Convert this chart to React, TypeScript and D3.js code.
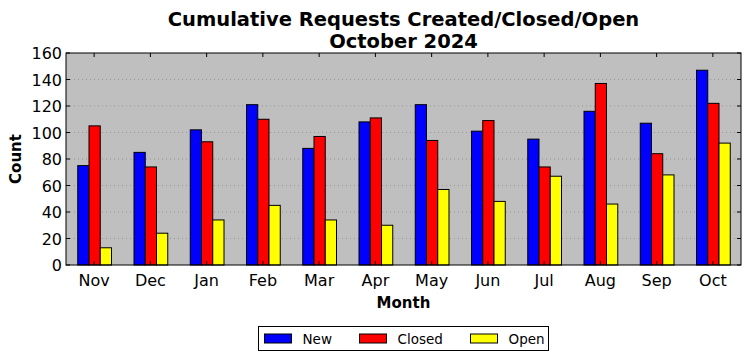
import React, { useEffect, useRef } from 'react';
import * as d3 from 'd3';

const MONTHS = ['Nov', 'Dec', 'Jan', 'Feb', 'Mar', 'Apr', 'May', 'Jun', 'Jul', 'Aug', 'Sep', 'Oct'];
const NEW = [75, 85, 102, 121, 88, 108, 121, 101, 95, 116, 107, 147];
const CLOSED = [105, 74, 93, 110, 97, 111, 94, 109, 74, 137, 84, 122];
const OPEN = [13, 24, 34, 45, 34, 30, 57, 48, 67, 46, 68, 92];
const Y_TICKS = [0, 20, 40, 60, 80, 100, 120, 140, 160];

const SERIES = [
  { name: 'New', values: NEW, color: '#0000ff' },
  { name: 'Closed', values: CLOSED, color: '#ff0000' },
  { name: 'Open', values: OPEN, color: '#ffff00' },
];

const W = 751;
const H = 361;
const FONT = '"DejaVu Sans", sans-serif';

export default function App() {
  const svgRef = useRef<SVGSVGElement>(null);

  useEffect(() => {
    if (!svgRef.current) return;
    const svg = d3.select(svgRef.current);
    svg.selectAll('*').remove();

    const margin = { top: 53, right: 10, bottom: 96, left: 66 };
    const innerWidth = W - margin.left - margin.right;
    const innerHeight = H - margin.top - margin.bottom;

    // numeric x: -0.5 .. 11.5 like matplotlib
    const x = d3.scaleLinear().domain([-0.5, MONTHS.length - 0.5]).range([0, innerWidth]);
    const y = d3.scaleLinear().domain([0, 160]).range([innerHeight, 0]);
    const barW = 0.2;

    const g = svg.append('g').attr('transform', `translate(${margin.left},${margin.top})`);

    g.append('rect')
      .attr('width', innerWidth)
      .attr('height', innerHeight)
      .attr('fill', '#bfbfbf');

    // grid
    g.append('g')
      .selectAll('line')
      .data(Y_TICKS.slice(1, -1))
      .join('line')
      .attr('x1', 0)
      .attr('x2', innerWidth)
      .attr('y1', (d) => y(d))
      .attr('y2', (d) => y(d))
      .attr('stroke', '#8c8c8c')
      .attr('stroke-width', 0.8)
      .attr('stroke-dasharray', '1,3');

    SERIES.forEach((s, si) => {
      g.append('g')
        .selectAll('rect')
        .data(s.values)
        .join('rect')
        .attr('x', (_, i) => x(i + (si - 1) * barW - barW / 2) + 0.5)
        .attr('y', (d) => y(d))
        .attr('width', x(barW) - x(0))
        .attr('height', (d) => innerHeight - y(d))
        .attr('fill', s.color)
        .attr('stroke', '#000')
        .attr('stroke-width', 1);
    });

    // frame
    g.append('rect')
      .attr('width', innerWidth)
      .attr('height', innerHeight)
      .attr('fill', 'none')
      .attr('stroke', '#000')
      .attr('stroke-width', 1);

    const tickLen = 4;
    const xt = d3.range(MONTHS.length);
    // x ticks (inside, top and bottom)
    g.append('g')
      .selectAll('line')
      .data(xt)
      .join('line')
      .attr('x1', (d) => x(d))
      .attr('x2', (d) => x(d))
      .attr('y1', innerHeight)
      .attr('y2', innerHeight - tickLen)
      .attr('stroke', '#000');
    g.append('g')
      .selectAll('line')
      .data(xt)
      .join('line')
      .attr('x1', (d) => x(d))
      .attr('x2', (d) => x(d))
      .attr('y1', 0)
      .attr('y2', tickLen)
      .attr('stroke', '#000');
    // y ticks (inside, left and right)
    g.append('g')
      .selectAll('line')
      .data(Y_TICKS)
      .join('line')
      .attr('x1', 0)
      .attr('x2', tickLen)
      .attr('y1', (d) => y(d))
      .attr('y2', (d) => y(d))
      .attr('stroke', '#000');
    g.append('g')
      .selectAll('line')
      .data(Y_TICKS)
      .join('line')
      .attr('x1', innerWidth)
      .attr('x2', innerWidth - tickLen)
      .attr('y1', (d) => y(d))
      .attr('y2', (d) => y(d))
      .attr('stroke', '#000');

    // tick labels
    g.append('g')
      .selectAll('text')
      .data(MONTHS)
      .join('text')
      .attr('x', (_, i) => x(i))
      .attr('y', innerHeight + 21)
      .attr('text-anchor', 'middle')
      .attr('font-family', FONT)
      .attr('font-size', '16px')
      .text((d) => d);
    g.append('g')
      .selectAll('text')
      .data(Y_TICKS)
      .join('text')
      .attr('x', -4)
      .attr('y', (d) => y(d) + 6)
      .attr('text-anchor', 'end')
      .attr('font-family', FONT)
      .attr('font-size', '16px')
      .text((d) => d);

    // axis labels
    g.append('text')
      .attr('x', innerWidth / 2)
      .attr('y', innerHeight + 43)
      .attr('text-anchor', 'middle')
      .attr('font-family', FONT)
      .attr('font-weight', 'bold')
      .attr('font-size', '15px')
      .text('Month');
    g.append('text')
      .attr('transform', 'rotate(-90)')
      .attr('x', -innerHeight / 2)
      .attr('y', -45)
      .attr('text-anchor', 'middle')
      .attr('font-family', FONT)
      .attr('font-weight', 'bold')
      .attr('font-size', '15px')
      .text('Count');

    // title
    const cx = margin.left + innerWidth / 2;
    const title = svg.append('text')
      .attr('text-anchor', 'middle')
      .attr('font-family', FONT)
      .attr('font-weight', 'bold')
      .attr('font-size', '19.5px');
    title.append('tspan').attr('x', cx).attr('y', 26).text('Cumulative Requests Created/Closed/Open');
    title.append('tspan').attr('x', cx).attr('y', 48).text('October 2024');

    // legend
    const lg = svg.append('g').attr('transform', 'translate(258.5,326.5)');
    lg.append('rect')
      .attr('width', 290)
      .attr('height', 24)
      .attr('fill', '#fff')
      .attr('stroke', '#000')
      .attr('stroke-width', 1);
    const offsets = [6, 101, 212];
    SERIES.forEach((s, i) => {
      lg.append('rect')
        .attr('x', offsets[i])
        .attr('y', 7.5)
        .attr('width', 27)
        .attr('height', 9)
        .attr('fill', s.color)
        .attr('stroke', '#000')
        .attr('stroke-width', 1);
      lg.append('text')
        .attr('x', offsets[i] + 38)
        .attr('y', 17)
        .attr('font-family', FONT)
        .attr('font-size', '13.5px')
        .text(s.name);
    });
  }, []);

  return (
    <svg
      ref={svgRef}
      width={W}
      height={H}
      style={{ position: 'absolute', left: 0, top: 0, background: '#fff' }}
    />
  );
}
